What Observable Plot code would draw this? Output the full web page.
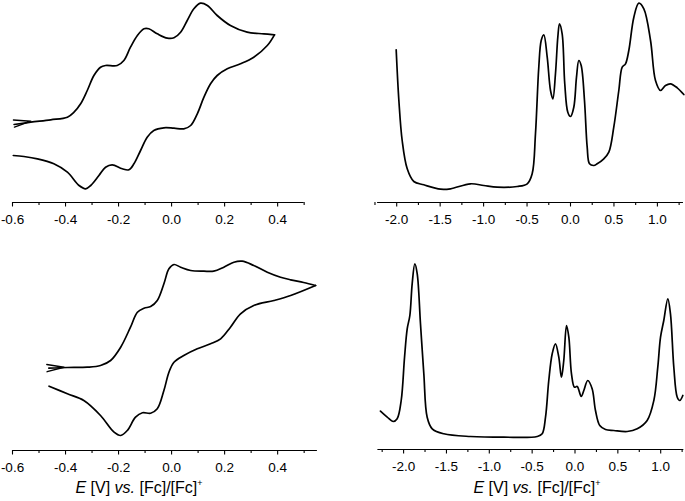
<!DOCTYPE html>
<html>
<head>
<meta charset="utf-8">
<script src="https://cdn.jsdelivr.net/npm/d3@7"></script>
<script src="https://cdn.jsdelivr.net/npm/@observablehq/plot@0.6"></script>
<style>
  html, body { margin: 0; padding: 0; background: #fff; }
  #wrap { position: relative; width: 685px; height: 501px; overflow: hidden; background: #fff; }
  #wrap svg { position: absolute; overflow: visible; }
  #wrap svg text { font-size: 13.5px !important; font-family: "Liberation Sans", Arial, sans-serif !important; }
  .xlab { position: absolute; font: 16px "Liberation Sans", Arial, sans-serif; color: #000; white-space: nowrap; transform: translate(-50%, -50%); }
  .xlab sup { font-size: 9px; vertical-align: 7px; line-height: 0; }
</style>
</head>
<body>
<div id="wrap"></div>
<script>
// ---- Data (E in V vs Fc/Fc+, current in arbitrary units) ----
// Panel A: CV (top left), forward and reverse branch
const cvA_fwdE = [-0.594,-0.531,-0.456,-0.393,-0.368,-0.343,-0.318,-0.293,-0.268,-0.249,-0.205,-0.180,-0.155,-0.129,-0.104,-0.086,-0.054,-0.016,0.009,0.034,0.059,0.084,0.109,0.135,0.172,0.222,0.285,0.348,0.388];
const cvA_fwdI = [78,80.3,82.7,85.3,90.3,98.7,112,127,135.3,137,137,142,155.3,167,173.7,173.7,168.7,164.3,164.7,170.3,182,193.7,199.3,197,187,177,170.3,168.7,167.7];
const cvA_revE = [0.388,0.361,0.310,0.260,0.210,0.172,0.147,0.122,0.097,0.072,0.046,0.009,-0.029,-0.067,-0.092,-0.117,-0.142,-0.161,-0.186,-0.224,-0.249,-0.274,-0.305,-0.324,-0.349,-0.393,-0.444,-0.506,-0.557,-0.597];
const cvA_revI = [167.7,157,145.3,138.7,133.7,127,118.7,105.3,88.7,77,73.7,74.3,74.7,72,65.3,52,38.7,32.7,33.7,37.7,35.3,27,17,13.7,17,30.3,38.7,43.7,46,47];
const cvA_arrow = {E: -0.531, I: 81.3};

// Panel B: DPV (top right)
const dpvB_E = [-2.006,-1.975,-1.937,-1.879,-1.803,-1.688,-1.496,-1.381,-1.151,-0.998,-0.844,-0.613,-0.498,-0.441,-0.403,-0.365,-0.337,-0.307,-0.268,-0.230,-0.203,-0.173,-0.146,-0.127,-0.096,-0.066,-0.031,0.000,0.038,0.069,0.096,0.123,0.161,0.192,0.219,0.268,0.307,0.383,0.441,0.498,0.556,0.595,0.633,0.671,0.729,0.786,0.844,0.921,0.978,1.036,1.093,1.151,1.228,1.304];
const dpvB_I = [152.7,102,62,33.7,21,17.7,13.3,13.7,18.7,17,15.3,16,18.7,28.7,68.7,135.3,162,167.7,145.3,112,103.7,128.7,165.3,178.7,168.7,118.7,90.3,86,95.3,125.3,142,137,102,55.3,38.7,37,38.7,43.7,50.3,75.3,112,135.3,138.7,152,185.3,199.3,193.7,162,122,112,117,118.7,114.7,108];

// Panel C: CV (bottom left)
const cvC_fwdE = [-0.463,-0.393,-0.318,-0.268,-0.230,-0.192,-0.155,-0.129,-0.104,-0.079,-0.054,-0.029,-0.010,0.009,0.034,0.072,0.122,0.159,0.197,0.235,0.266,0.310,0.361,0.411,0.449,0.498,0.543];
const cvC_fwdI = [82.3,83,83.3,85,90,103.3,123.3,138.3,142.3,144,150,166.7,181.7,186,183.3,180,179.3,179.3,183.3,188.3,189.3,185,178.3,173.3,170.7,168,165];
const cvC_revE = [0.543,0.449,0.386,0.310,0.260,0.222,0.185,0.147,0.097,0.046,0.009,-0.010,-0.029,-0.054,-0.079,-0.110,-0.136,-0.167,-0.192,-0.217,-0.268,-0.331,-0.393,-0.462];
const cvC_revI = [165,155,150,145,136.7,123.3,111.7,106.7,101.7,95,88.3,78.3,60,41.7,37.3,37.7,33.3,20,15,18.3,35,50,56.7,64.3];
const cvC_arrow = {E: -0.406, I: 83.3};

// Panel D: DPV (bottom right)
const dpvD_E = [-2.270,-2.191,-2.121,-2.075,-2.028,-1.989,-1.958,-1.927,-1.900,-1.869,-1.841,-1.803,-1.764,-1.725,-1.666,-1.531,-1.219,-0.831,-0.441,-0.383,-0.344,-0.306,-0.266,-0.228,-0.189,-0.158,-0.131,-0.099,-0.072,-0.041,-0.006,0.026,0.072,0.103,0.149,0.200,0.239,0.289,0.356,0.453,0.609,0.726,0.842,0.920,0.966,0.998,1.036,1.083,1.114,1.153,1.193,1.223,1.258];
const dpvD_I = [38.3,32.3,28,30.7,49,92.3,120.7,134,165.7,185.7,175.7,125.7,75.7,32.3,20.7,15.7,13,12.3,13,15.7,32.3,69,95.7,105.7,92.3,72.3,89,124,112.3,75.7,62.3,63,53,59,69,60.7,39,24,20,19,18,20.7,29,49,82.3,112.3,129,150.7,135.7,82.3,52.3,49,54];

// Tick values
const ticksCV = [-0.6,-0.4,-0.2,0.0,0.2,0.4];
const minorCV = [-0.5,-0.3,-0.1,0.1,0.3,0.5];
const ticksDPV = [-2.0,-1.5,-1.0,-0.5,0.0,0.5,1.0];
const minorDPV = [-2.25,-1.75,-1.25,-0.75,-0.25,0.25,0.75,1.25];

const zipXY = (E, I) => E.map((e, k) => ({E: e, I: I[k]}));
const fmt = d => d.toFixed(1);
const font = {fontSize: "13.5px", fontFamily: "'Liberation Sans', Arial, sans-serif", background: "transparent", overflow: "visible"};

// open arrowhead: two barbs meeting at the tip
const barbs = {
  draw(context, l) {
    const w = l * Math.tan(12 * Math.PI / 180);
    context.moveTo(-w, 0);
    context.lineTo(0, -l);
    context.lineTo(w, 0);
  }
};

function arrowMark(a, rotate) {
  try {
    return Plot.vector([a], {x: "E", y: "I", length: 17, rotate, anchor: "end", shape: barbs, stroke: "#000", strokeWidth: 1.4, fill: "none"});
  } catch (e) {
    return Plot.arrow([a], {x1: d => d.E - 0.06, y1: "I", x2: "E", y2: "I", headAngle: 26, headLength: 8, stroke: "#000", strokeWidth: 1.4});
  }
}

function panel({left, top, width, height, marginLeft, marginRight, xDomain, yDomain, ticks, minor, series, arrow, arrowRotate}) {
  const marks = [
    Plot.ruleY([yDomain[0]], {stroke: "#000", strokeWidth: 1.2}),
    Plot.axisX({ticks: minor, tickSize: 3, tickFormat: () => "", stroke: "#000", strokeWidth: 1.1}),
    Plot.axisX({ticks, tickSize: 4.5, tickPadding: 7, tickFormat: fmt, stroke: "#000", fill: "#000", strokeWidth: 1.1, fontSize: 13.5}),
    ...series.map(s => Plot.line(s, {x: "E", y: "I", curve: "catmull-rom", stroke: "#000", strokeWidth: 1.7}))
  ];
  if (arrow) marks.push(arrowMark(arrow, arrowRotate));
  const svg = Plot.plot({
    width, height, marginLeft, marginRight, marginTop: 0, marginBottom: height - (yDomain[1] - yDomain[0]),
    x: {domain: xDomain, label: null},
    y: {domain: yDomain, axis: null},
    style: font,
    marks
  });
  svg.style.left = left + "px";
  svg.style.top = top + "px";
  document.getElementById("wrap").appendChild(svg);
}

// Top left: 0 V at x=171, 265.3 px/V
panel({left: 0, top: 0, width: 320, height: 232, marginLeft: 12, marginRight: 320 - (171 + 0.5 * 265.3),
  xDomain: [-0.6, 0.5], yDomain: [0, 202], ticks: ticksCV, minor: minorCV,
  series: [zipXY(cvA_fwdE, cvA_fwdI), zipXY(cvA_revE, cvA_revI)], arrow: cvA_arrow, arrowRotate: 82});

// Top right: 0 V at x=570, 86.9 px/V
panel({left: 360, top: 0, width: 325, height: 232, marginLeft: 570 - 2.22 * 86.9 - 360, marginRight: 685 - (570 + 1.30 * 86.9),
  xDomain: [-2.22, 1.30], yDomain: [0, 202], ticks: ticksDPV, minor: minorDPV,
  series: [zipXY(dpvB_E, dpvB_I)]});

// Bottom left
panel({left: 0, top: 250, width: 330, height: 232, marginLeft: 12, marginRight: 330 - (171 + 0.55 * 265.3),
  xDomain: [-0.6, 0.55], yDomain: [0, 200], ticks: ticksCV, minor: minorCV,
  series: [zipXY(cvC_fwdE, cvC_fwdI), zipXY(cvC_revE, cvC_revI)], arrow: cvC_arrow, arrowRotate: 87});

// Bottom right: 0 V at x=574.5, 85.7 px/V
panel({left: 360, top: 249, width: 325, height: 232, marginLeft: 574.5 - 2.30 * 85.7 - 360, marginRight: 685 - (574.5 + 1.27 * 85.7),
  xDomain: [-2.30, 1.27], yDomain: [0, 200], ticks: ticksDPV, minor: minorDPV,
  series: [zipXY(dpvD_E, dpvD_I)]});

// Axis titles
const wrap = document.getElementById("wrap");
for (const [cx, cy] of [[139, 488], [537, 488]]) {
  const d = document.createElement("div");
  d.className = "xlab";
  d.style.left = cx + "px";
  d.style.top = cy + "px";
  d.innerHTML = "<i>E</i> [V] <i>vs.</i> [Fc]/[Fc]<sup>+</sup>";
  wrap.appendChild(d);
}
</script>
</body>
</html>
